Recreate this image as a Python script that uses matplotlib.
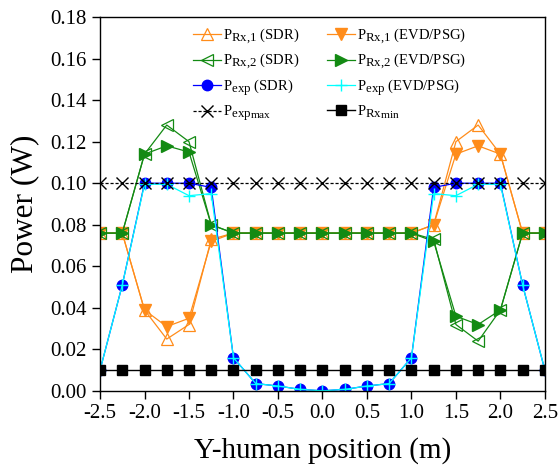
import matplotlib
matplotlib.use("Agg")
import matplotlib.pyplot as plt
import numpy as np
try:
    import matplotlib._mathtext as _mt
    _mt.SHRINK_FACTOR = 0.88
except Exception:
    pass

plt.rcParams['font.family'] = ['Liberation Serif', 'DejaVu Serif']
plt.rcParams['mathtext.fontset'] = 'custom'
plt.rcParams['mathtext.rm'] = 'Liberation Serif'
plt.rcParams['mathtext.it'] = 'Liberation Serif:italic'
plt.rcParams['mathtext.bf'] = 'Liberation Serif:bold'

y_pos = [-2.5, -2.25, -2.0, -1.75, -1.5, -1.25, -1.0, -0.75, -0.5, -0.25, 0.0,
         0.25, 0.5, 0.75, 1.0, 1.25, 1.5, 1.75, 2.0, 2.25, 2.5]

p_rx1_sdr = [0.076, 0.076, 0.039, 0.025, 0.032, 0.073, 0.076, 0.076, 0.076, 0.076, 0.076,
             0.076, 0.076, 0.076, 0.076, 0.080, 0.120, 0.128, 0.114, 0.076, 0.076]
p_rx1_evd = [0.076, 0.076, 0.039, 0.031, 0.035, 0.072, 0.076, 0.076, 0.076, 0.076, 0.076,
             0.076, 0.076, 0.076, 0.076, 0.080, 0.114, 0.118, 0.114, 0.076, 0.076]
p_rx2_sdr = [0.076, 0.076, 0.114, 0.128, 0.120, 0.080, 0.076, 0.076, 0.076, 0.076, 0.076,
             0.076, 0.076, 0.076, 0.076, 0.073, 0.032, 0.024, 0.039, 0.076, 0.076]
p_rx2_evd = [0.076, 0.076, 0.114, 0.118, 0.115, 0.080, 0.076, 0.076, 0.076, 0.076, 0.076,
             0.076, 0.076, 0.076, 0.076, 0.072, 0.036, 0.032, 0.039, 0.076, 0.076]
p_exp_sdr = [0.010, 0.051, 0.100, 0.100, 0.100, 0.098, 0.016, 0.0036, 0.0024, 0.0008, 0.0001,
             0.0008, 0.0024, 0.0036, 0.016, 0.098, 0.100, 0.100, 0.100, 0.051, 0.010]
p_exp_evd = [0.010, 0.051, 0.0995, 0.0995, 0.094, 0.095, 0.016, 0.0036, 0.0024, 0.0008, 0.0001,
             0.0008, 0.0024, 0.0036, 0.016, 0.095, 0.094, 0.0995, 0.0995, 0.051, 0.010]
p_exp_max = [0.10] * 21
p_rx_min = [0.01] * 21

x_ticks = [-2.5, -2.0, -1.5, -1.0, -0.5, 0.0, 0.5, 1.0, 1.5, 2.0, 2.5]
y_ticks = [0.00, 0.02, 0.04, 0.06, 0.08, 0.10, 0.12, 0.14, 0.16, 0.18]

orange = '#FF8C1A'
green = '#138A13'

fig = plt.figure(figsize=(5.6, 4.68), dpi=100)
ax = fig.add_axes([0.1786, 0.1645, 0.7944, 0.7992])

lw = 0.9
h1, = ax.plot(y_pos, p_rx1_sdr, color=orange, lw=lw, marker='^', ms=9, mfc='none', mec=orange, mew=0.9,
              label=r'$\mathrm{P_{Rx{,}1}}$ (SDR)')
h2, = ax.plot(y_pos, p_rx1_evd, color=orange, lw=lw, marker='v', ms=9, mfc=orange, mec=orange,
              label=r'$\mathrm{P_{Rx{,}1}}$ (EVD/PSG)')
h3, = ax.plot(y_pos, p_rx2_sdr, color=green, lw=lw, marker='<', ms=9, mfc='none', mec=green, mew=0.9,
              label=r'$\mathrm{P_{Rx{,}2}}$ (SDR)')
h4, = ax.plot(y_pos, p_rx2_evd, color=green, lw=lw, marker='>', ms=9, mfc=green, mec=green,
              label=r'$\mathrm{P_{Rx{,}2}}$ (EVD/PSG)')
h5, = ax.plot(y_pos, p_exp_sdr, color='#0000FF', lw=lw, marker='o', ms=7.5, mfc='#0000FF', mec='#0000FF',
              label=r'$\mathrm{P_{exp}}$ (SDR)')
h6, = ax.plot(y_pos, p_exp_evd, color='#00FFFF', lw=lw, marker='+', ms=9, mew=1.0,
              label=r'$\mathrm{P_{exp}}$ (EVD/PSG)')
h7, = ax.plot(y_pos, p_exp_max, color='black', lw=0.9, ls=(0, (2.5, 1.5)), marker='x', ms=8, mew=1.0,
              label=r'$\mathrm{P_{exp_{max}}}$')
h8, = ax.plot(y_pos, p_rx_min, color='black', lw=1.0, marker='s', ms=6.5,
              label=r'$\mathrm{P_{Rx_{min}}}$')

ax.set_xlim(-2.5, 2.5)
ax.set_ylim(0.0, 0.18)
ax.set_xticks(x_ticks)
ax.set_xticklabels([f'{v:.1f}' for v in x_ticks])
ax.set_yticks(y_ticks)
ax.set_yticklabels([f'{v:.2f}' for v in y_ticks])
ax.tick_params(axis='both', direction='out', labelsize=15, length=6, width=1, top=False, right=False)
ax.set_xlabel('Y-human position (m)', fontsize=21, labelpad=10)
ax.set_ylabel('Power (W)', fontsize=22.5, labelpad=8)
for s in ax.spines.values():
    s.set_linewidth(1.0)

handles = [h1, h3, h5, h7, h2, h4, h6, h8]
leg = ax.legend(handles=handles, ncol=2, loc='upper left', bbox_to_anchor=(0.209, 0.976),
          frameon=False, fontsize=10.5, handlelength=1.9, handletextpad=0.15,
          columnspacing=1.9, labelspacing=0.4, borderpad=0, borderaxespad=0)

fig.savefig('out.png', dpi=100)
